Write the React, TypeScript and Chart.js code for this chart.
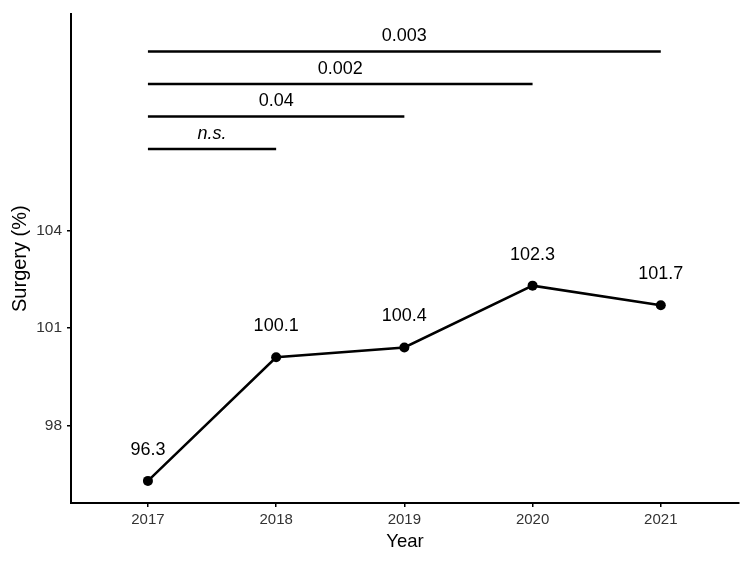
import React, { useEffect, useRef } from "react";
import { Chart, registerables } from "chart.js";

Chart.register(...registerables);

const years = ["2017", "2018", "2019", "2020", "2021"];
const surgery = [96.3, 100.1, 100.4, 102.3, 101.7];
const yTicks = [98, 101, 104];

const bracketStart = [0, 0, 0, 0];
const bracketEnd = [4, 3, 2, 1];
const bracketY = [109.5, 108.5, 107.5, 106.5];
const bracketLabels = ["0.003", "0.002", "0.04", "n.s."];

const FONT = "'Liberation Sans', Arial, sans-serif";

const labelPlugin = {
  id: "labels",
  afterDatasetsDraw(chart: any) {
    const ctx = chart.ctx;
    const xs = chart.scales.x;
    const ys = chart.scales.y;
    ctx.save();
    ctx.fillStyle = "#000";
    ctx.textAlign = "center";
    ctx.textBaseline = "middle";
    ctx.font = `18px ${FONT}`;
    surgery.forEach((v, i) => {
      ctx.fillText(v.toFixed(1), xs.getPixelForValue(i), ys.getPixelForValue(v) - 31);
    });
    bracketLabels.forEach((l, i) => {
      const mid = (bracketStart[i] + bracketEnd[i]) / 2;
      ctx.font = l === "n.s." ? `italic 18px ${FONT}` : `18px ${FONT}`;
      ctx.fillText(l, xs.getPixelForValue(mid), ys.getPixelForValue(bracketY[i]) - 15);
    });
    ctx.restore();
  },
};

export default function App() {
  const ref = useRef<HTMLCanvasElement | null>(null);
  useEffect(() => {
    if (!ref.current) return;
    const bracketSets = bracketY.map((y, i) => ({
      data: [
        { x: bracketStart[i], y },
        { x: bracketEnd[i], y },
      ],
      borderColor: "#000",
      borderWidth: 2.5,
      pointRadius: 0,
      fill: false,
    }));
    const chart = new Chart(ref.current, {
      type: "line",
      data: {
        datasets: [
          {
            data: surgery.map((v, i) => ({ x: i, y: v })),
            borderColor: "#000",
            backgroundColor: "#000",
            borderWidth: 2.5,
            pointRadius: 5,
            pointBackgroundColor: "#000",
            pointBorderWidth: 0,
            fill: false,
          },
          ...bracketSets,
        ],
      },
      options: {
        animation: false,
        responsive: true,
        maintainAspectRatio: false,
        layout: { padding: { left: 0, right: 11, top: 10, bottom: 0 } },
        plugins: { legend: { display: false }, tooltip: { enabled: false } },
        scales: {
          x: {
            type: "linear",
            min: -0.6,
            max: 4.61,
            afterBuildTicks: (s: any) => {
              s.ticks = years.map((_, i) => ({ value: i }));
            },
            afterFit: (s: any) => {
              s.height = 60;
            },
            ticks: {
              callback: (v: any) => years[Math.round(v)],
              color: "#333",
              font: { family: FONT, size: 15 },
              padding: 4,
              maxRotation: 0,
            },
            grid: { display: true, drawOnChartArea: false, drawTicks: true, tickLength: 4, color: "#000", lineWidth: 1.5 },
            border: { display: true, color: "#000", width: 2 },
            title: {
              display: true,
              text: "Year",
              color: "#000",
              font: { family: FONT, size: 18.5 },
              padding: { top: 0, bottom: 10 },
            },
          },
          y: {
            type: "linear",
            min: 95.62,
            max: 110.64,
            afterBuildTicks: (s: any) => {
              s.ticks = yTicks.map((v) => ({ value: v }));
            },
            afterFit: (s: any) => {
              s.width = 71;
            },
            ticks: {
              color: "#333",
              font: { family: FONT, size: 15.5 },
              padding: 5,
            },
            grid: { display: true, drawOnChartArea: false, drawTicks: true, tickLength: 4, color: "#000", lineWidth: 1.5 },
            border: { display: true, color: "#000", width: 2 },
            title: {
              display: true,
              text: "Surgery (%)",
              color: "#000",
              font: { family: FONT, size: 20 },
              padding: { top: 8, bottom: 0 },
            },
          },
        },
      },
      plugins: [labelPlugin],
    });
    return () => chart.destroy();
  }, []);
  return (
    <div style={{ position: "fixed", left: 0, top: 0, width: 750, height: 563, background: "#fff" }}>
      <canvas ref={ref} />
    </div>
  );
}
